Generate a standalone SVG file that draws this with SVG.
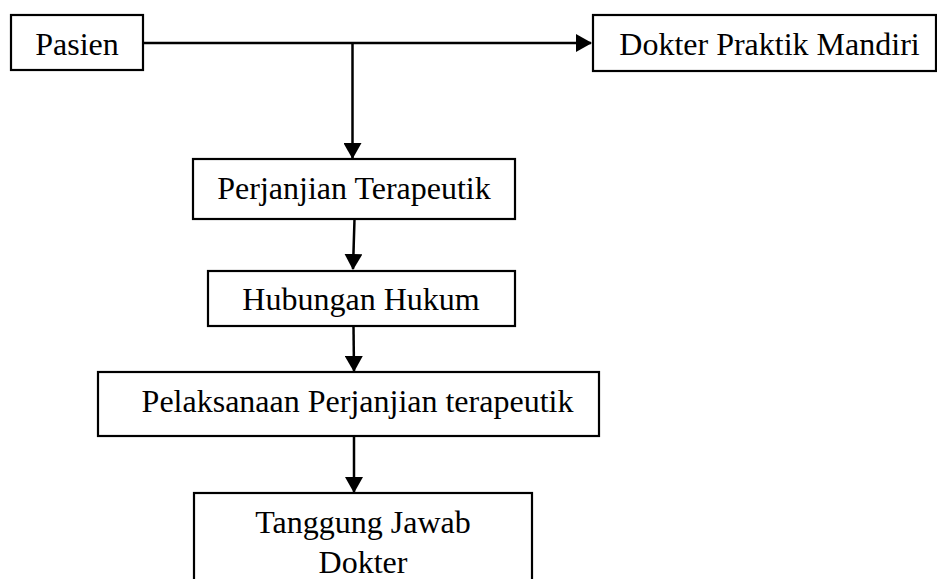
<svg xmlns="http://www.w3.org/2000/svg" width="937" height="579" viewBox="0 0 937 579">
<style>
.box{fill:#fff;stroke:#000;stroke-width:2.2}
.lbl{font-size:32px;fill:#000;text-anchor:middle}
.con{fill:none;stroke:#000;stroke-width:2.5}
</style>
<defs>
<marker id="ah" markerUnits="userSpaceOnUse" markerWidth="16" markerHeight="18" viewBox="0 0 16 18" refX="15" refY="9" orient="auto">
<path d="M0,0 L16,9 L0,18 Z" fill="#000"/>
</marker>
</defs>
<rect width="937" height="579" fill="#fff"/>
<g id="connectors">
<line class="con" x1="143" y1="43" x2="591" y2="43" marker-end="url(#ah)"/>
<line class="con" x1="352.5" y1="43" x2="352.5" y2="158" marker-end="url(#ah)"/>
<line class="con" x1="354.5" y1="219" x2="353" y2="269" marker-end="url(#ah)"/>
<line class="con" x1="353.5" y1="326" x2="354" y2="371" marker-end="url(#ah)"/>
<line class="con" x1="354" y1="436" x2="354" y2="492" marker-end="url(#ah)"/>
</g>
<g font-family="'Liberation Serif', 'Times New Roman', Tinos, 'DejaVu Serif', serif">
<g id="pasien">
<rect class="box" x="11" y="15" width="132" height="55"/>
<text class="lbl" x="77" y="55">Pasien</text>
</g>
<g id="dokter-praktik">
<rect class="box" x="593" y="15" width="343" height="56"/>
<text class="lbl" x="769.5" y="55">Dokter Praktik Mandiri</text>
</g>
<g id="perjanjian">
<rect class="box" x="193" y="159" width="322" height="60"/>
<text class="lbl" x="354" y="199">Perjanjian Terapeutik</text>
</g>
<g id="hubungan">
<rect class="box" x="208" y="271" width="307" height="55"/>
<text class="lbl" x="361" y="310">Hubungan Hukum</text>
</g>
<g id="pelaksanaan">
<rect class="box" x="98" y="372" width="501" height="64"/>
<text class="lbl" x="357.5" y="412">Pelaksanaan Perjanjian terapeutik</text>
</g>
<g id="tanggung-jawab">
<rect class="box" x="194" y="493" width="338" height="100"/>
<text class="lbl" x="363" y="533">Tanggung Jawab</text>
<text class="lbl" x="363" y="573">Dokter</text>
</g>
</g>
</svg>
